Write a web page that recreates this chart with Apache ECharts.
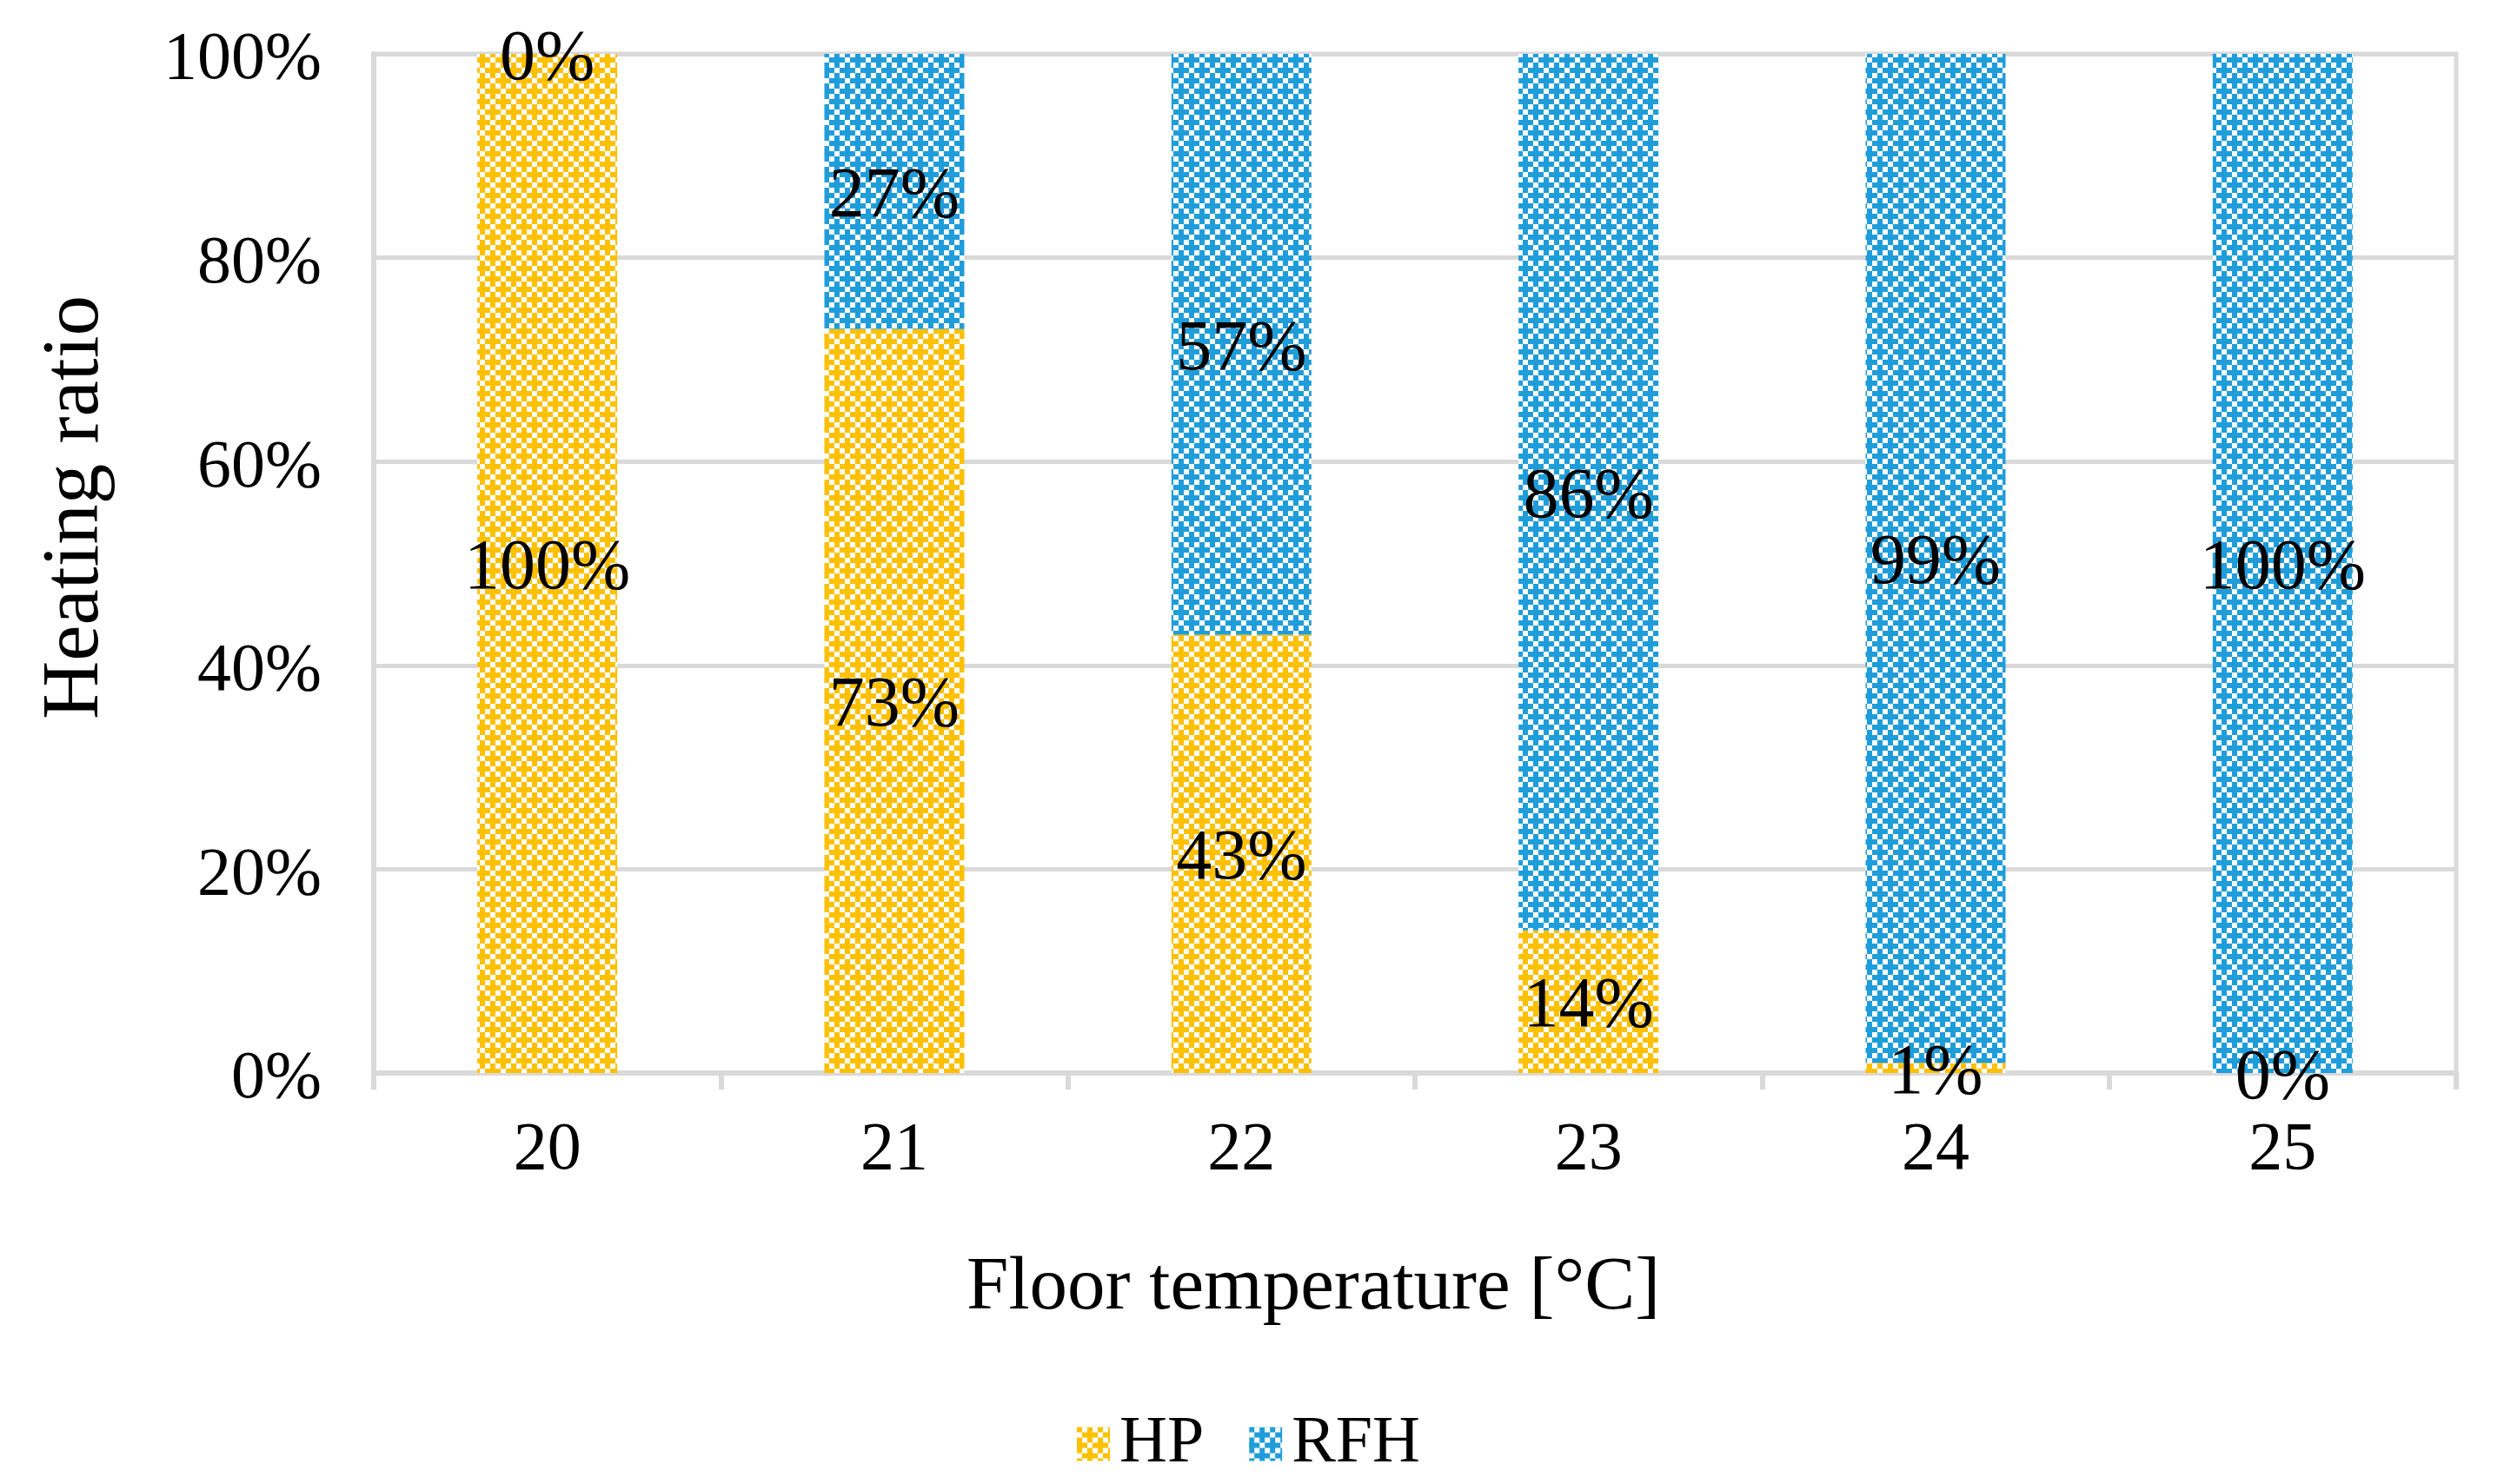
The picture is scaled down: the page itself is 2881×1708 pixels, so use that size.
<!DOCTYPE html>
<html><head><meta charset="utf-8">
<script src="https://cdn.jsdelivr.net/npm/echarts@6/dist/echarts.min.js"></script>
<style>html,body{margin:0;padding:0;background:#fff}#c{width:2881px;height:1708px}</style>
</head><body><div id="c"></div>
<script>
const categories = ['20', '21', '22', '23', '24', '25'];
const hpValues = [100, 73, 43, 14, 1, 0];
const rfhValues = [0, 27, 57, 86, 99, 100];
const seriesNames = ['HP', 'RFH'];
const xTitle = 'Floor temperature [°C]';
const yTitle = 'Heating ratio';

function makePattern(color) {
  const s = 6, bits = [
    [1,0,1,0],
    [0,1,1,1],
    [1,0,1,0],
    [1,1,0,1]
  ];
  const c = document.createElement('canvas');
  c.width = s * 4; c.height = s * 4;
  const g = c.getContext('2d');
  g.fillStyle = '#fff'; g.fillRect(0, 0, c.width, c.height);
  g.fillStyle = color;
  for (let r = 0; r < 4; r++) for (let k = 0; k < 4; k++) if (bits[r][k]) g.fillRect(k * s, r * s, s, s);
  return { image: c, repeat: 'repeat' };
}
const FONT = "'Liberation Serif', 'Times New Roman', serif";
const grey = '#D9D9D9';
const chart = echarts.init(document.getElementById('c'));
const labelCfg = {
  show: true, position: 'inside', color: '#000', fontFamily: FONT, fontSize: 82,
  offset: [0, 7],
  formatter: p => p.value + '%'
};
chart.setOption({
  animation: false,
  backgroundColor: '#fff',
  grid: { left: 430, top: 62, width: 2396, height: 1173, show: true, borderColor: grey, borderWidth: 5, containLabel: false },
  legend: {
    left: 1234, top: 1619, itemWidth: 38, itemHeight: 39, itemGap: 52, icon: 'rect',
    textStyle: { fontFamily: FONT, fontSize: 76, color: '#000', padding: [0, 0, 0, 6] },
    data: seriesNames
  },
  xAxis: {
    type: 'category', data: categories,
    axisLine: { lineStyle: { color: grey, width: 6 } },
    axisTick: { show: true, length: 19, lineStyle: { color: grey, width: 6 } },
    axisLabel: { fontFamily: FONT, fontSize: 78, color: '#000', margin: 51 },
    splitLine: { show: false }
  },
  yAxis: {
    type: 'value', min: 0, max: 100, interval: 20,
    axisLine: { show: true, lineStyle: { color: grey, width: 6 } },
    axisTick: { show: false },
    axisLabel: {
      color: '#000', margin: 60, formatter: '{a|{value}%}',
      rich: { a: { fontFamily: FONT, fontSize: 78, color: '#000', padding: [16, 0, 0, 0] } }
    },
    splitLine: { lineStyle: { color: grey, width: 5 } }
  },
  graphic: [
    { type: 'text', left: 1112, top: 1440, style: { text: xTitle, font: '87px ' + FONT, fill: '#000' } },
    { type: 'text', x: 88, y: 584, rotation: Math.PI / 2,
      style: { text: yTitle, font: '93px ' + FONT, fill: '#000', align: 'center', verticalAlign: 'middle' } }
  ],
  series: [
    { name: seriesNames[0], type: 'bar', stack: 'all', barWidth: 161, data: hpValues,
      itemStyle: { color: makePattern('#FFC000') }, label: labelCfg },
    { name: seriesNames[1], type: 'bar', stack: 'all', barWidth: 161, data: rfhValues,
      itemStyle: { color: makePattern('#1F9DDA') }, label: labelCfg }
  ]
});
</script></body></html>
